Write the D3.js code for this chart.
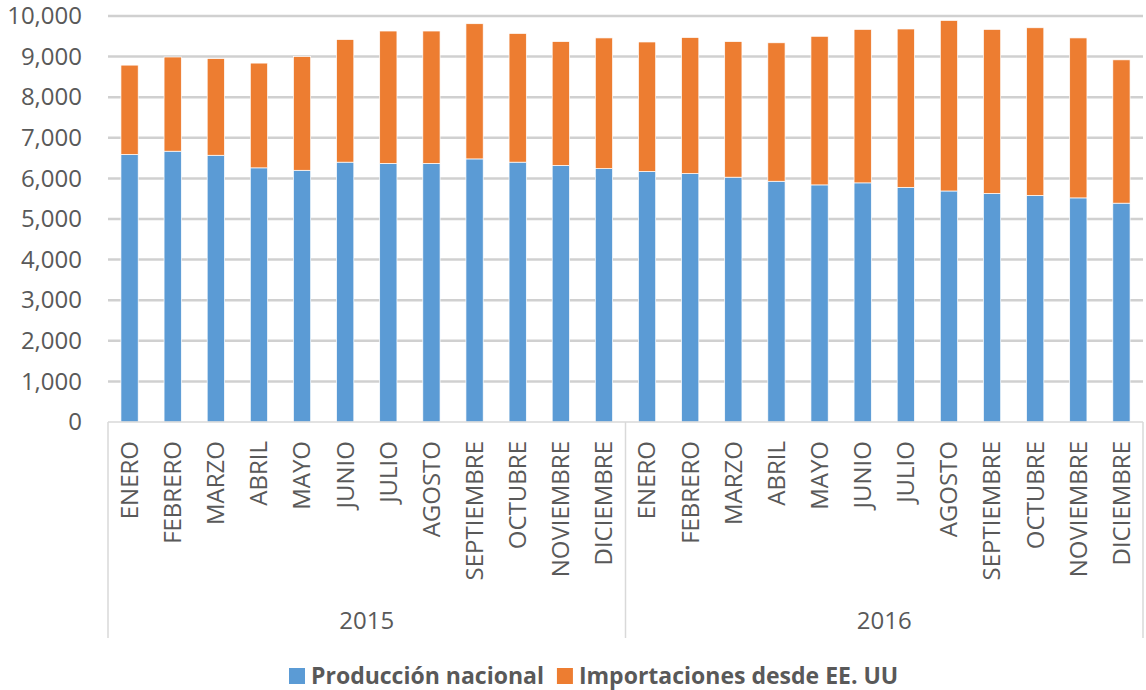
<!DOCTYPE html>
<html>
<head>
<meta charset="utf-8">
<script src="https://cdn.jsdelivr.net/npm/d3@7"></script>
<style>
  body { margin: 0; background: #fff; }
  text { font-family: "Open Sans", sans-serif; fill: #595959; }
</style>
</head>
<body>
<div id="chart"></div>
<script>
// categories
const months = ["ENERO", "FEBRERO", "MARZO", "ABRIL", "MAYO", "JUNIO", "JULIO",
  "AGOSTO", "SEPTIEMBRE", "OCTUBRE", "NOVIEMBRE", "DICIEMBRE"];
const years = ["2015", "2016"];

// series
const produccion = [
  6590, 6670, 6570, 6260, 6200, 6400, 6370, 6370, 6480, 6400, 6320, 6240,
  6170, 6120, 6030, 5930, 5840, 5890, 5780, 5690, 5630, 5580, 5520, 5390
];
const importaciones = [
  2200, 2320, 2380, 2580, 2800, 3020, 3260, 3260, 3330, 3170, 3050, 3220,
  3190, 3350, 3340, 3410, 3660, 3780, 3900, 4200, 4040, 4130, 3940, 3530
];

const seriesNames = ["Producción nacional", "Importaciones desde EE. UU"];
const colors = ["#5B9BD5", "#ED7D31"];
const yTicks = [0, 1000, 2000, 3000, 4000, 5000, 6000, 7000, 8000, 9000, 10000];

const W = 1146, H = 690;
const mLeft = 108, mRight = 1143, mTop = 16, mBottom = 422, axisBottom = 638;

// one row per month/year
const rows = [];
years.forEach((yr, yi) => months.forEach((m, mi) => {
  const i = yi * 12 + mi;
  rows.push({ key: i, month: m, year: yr, prod: produccion[i], imp: importaciones[i] });
}));

const svg = d3.select('#chart').append('svg')
  .attr('width', W)
  .attr('height', H);

const x = d3.scaleBand()
  .domain(rows.map(d => d.key))
  .range([mLeft, mRight])
  .paddingInner(0.6)
  .paddingOuter(0.3);

const y = d3.scaleLinear().domain([0, 10000]).range([mBottom, mTop]);

// gridlines
svg.append('g')
  .selectAll('line')
  .data(yTicks.filter(t => t > 0))
  .join('line')
  .attr('x1', mLeft).attr('x2', mRight)
  .attr('y1', d => y(d)).attr('y2', d => y(d))
  .attr('stroke', '#d0d0d0')
  .attr('stroke-width', 2.5);

// y axis labels
const yAxis = svg.append('g')
  .attr('transform', `translate(${mLeft - 26},0)`)
  .call(d3.axisLeft(y).tickValues(yTicks).tickFormat(d3.format(',')).tickSize(0).tickPadding(0));
yAxis.select('.domain').remove();
yAxis.selectAll('text')
  .style('font-size', '24px')
  .style('font-family', '"Open Sans", sans-serif')
  .attr('fill', '#595959');

// stacked bars
const stacked = d3.stack().keys(['prod', 'imp'])(rows);

svg.append('g')
  .selectAll('g')
  .data(stacked)
  .join('g')
  .attr('fill', (d, i) => colors[i])
  .selectAll('rect')
  .data(d => d)
  .join('rect')
  .attr('x', d => x(d.data.key))
  .attr('width', x.bandwidth())
  .attr('y', d => y(d[1]))
  .attr('height', d => y(d[0]) - y(d[1]))
  .attr('stroke', '#fff')
  .attr('stroke-width', 0.7);

// baseline + category axis frame
const frame = svg.append('g').attr('stroke', '#d9d9d9').attr('stroke-width', 1.5);
frame.append('line')
  .attr('x1', mLeft).attr('x2', mRight)
  .attr('y1', mBottom).attr('y2', mBottom);

// group boundary sits halfway between last bar of 2015 and first of 2016
const divider = (x(11) + x.bandwidth() + x(12)) / 2;
[mLeft, divider, mRight].forEach(px => {
  frame.append('line')
    .attr('x1', px).attr('x2', px)
    .attr('y1', mBottom).attr('y2', axisBottom);
});

// month labels
svg.append('g')
  .selectAll('text')
  .data(rows)
  .join('text')
  .attr('transform', d => `translate(${x(d.key) + x.bandwidth() / 2},${mBottom + 19}) rotate(-90)`)
  .attr('text-anchor', 'end')
  .attr('dy', '0.35em')
  .style('font-size', '24px')
  .text(d => d.month);

// year labels
const yearCenters = [(mLeft + divider) / 2, (divider + mRight) / 2];
svg.append('g')
  .selectAll('text')
  .data(years)
  .join('text')
  .attr('x', (d, i) => yearCenters[i])
  .attr('y', 621)
  .attr('dy', '0.35em')
  .attr('text-anchor', 'middle')
  .style('font-size', '24px')
  .text(d => d);

// legend
const legend = svg.append('g').attr('transform', 'translate(289,676)');
let lx = 0;
seriesNames.forEach((name, i) => {
  legend.append('rect')
    .attr('x', lx).attr('y', -8)
    .attr('width', 16).attr('height', 16)
    .attr('fill', colors[i]);
  const t = legend.append('text')
    .attr('x', lx + 22)
    .attr('dy', '0.35em')
    .style('font-size', '23px')
    .style('font-weight', 'bold')
    .text(name);
  lx += 22 + t.node().getComputedTextLength() + 13;
});
</script>
</body>
</html>
